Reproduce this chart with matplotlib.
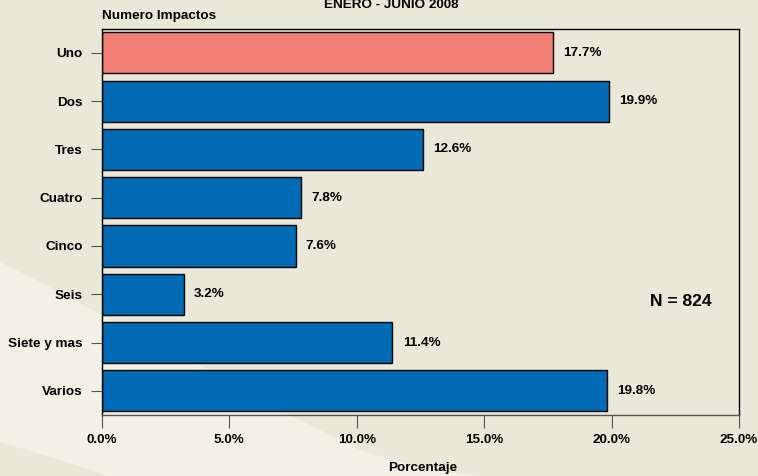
import matplotlib
matplotlib.use("Agg")
import matplotlib.pyplot as plt
from matplotlib.patches import Polygon

plt.rcParams['font.family'] = ['Liberation Sans', 'DejaVu Sans']
plt.rcParams['font.weight'] = 'bold'

categorias = ["Uno", "Dos", "Tres", "Cuatro", "Cinco", "Seis", "Siete y mas", "Varios"]
porcentajes = [17.7, 19.9, 12.6, 7.8, 7.6, 3.2, 11.4, 19.8]
colores = ["#F47F77"] + ["#006AB5"] * 7
xticks = [0, 5, 10, 15, 20, 25]

W, H = 758, 476
fig = plt.figure(figsize=(W / 100, H / 100), dpi=100)
fig.patch.set_facecolor("#EAE8D8")

# decorative lighter swoosh in the background (pixel coords -> figure fraction)
def px(pts):
    return [(x / W, 1 - y / H) for x, y in pts]

luz = px([(0, 262), (60, 292), (120, 325), (200, 365), (280, 410), (360, 450), (420, 468), (480, 476),
          (110, 476), (60, 460), (0, 442)])
fig.patches.append(Polygon(luz, closed=True, transform=fig.transFigure, facecolor="#F3F1E6",
                           edgecolor="none", zorder=-10))

ax = fig.add_axes([102 / W, 1 - 415 / H, (739 - 102) / W, (415 - 28.7) / H])
ax.patch.set_alpha(0)

fs = 9.7
pos = list(range(len(categorias)))
ax.barh(pos, porcentajes, height=0.85, color=colores, edgecolor="black", linewidth=1)
for p, v in zip(pos, porcentajes):
    ax.text(v + 0.4, p, f"{v:.1f}%", va="center", ha="left", fontsize=fs, fontweight="bold")

ax.set_ylim(7.5, -0.5)
ax.set_xlim(0, 25)
ax.set_yticks(pos)
ax.set_yticklabels(categorias, fontsize=fs, fontweight="bold")
ax.set_xticks(xticks)
ax.set_xticklabels([f"{t:.1f}%" for t in xticks], fontsize=fs, fontweight="bold")
ax.tick_params(axis="y", length=8, color="#555555", pad=6)
ax.tick_params(axis="x", length=9, color="#555555", pad=5)
for s in ax.spines.values():
    s.set_linewidth(1)
ax.spines["bottom"].set_color("#555555")

fig.text(388 / W, 1 - 468 / H, "Porcentaje", ha="left", va="center", fontsize=fs, fontweight="bold")
fig.text(102 / W, 1 - 16 / H, "Numero Impactos", ha="left", va="center", fontsize=fs, fontweight="bold")
fig.text(391 / W, 1 - 5 / H, "ENERO - JUNIO 2008", ha="center", va="center", fontsize=fs, fontweight="bold")
fig.text(681 / W, 1 - 301 / H, "N = 824", ha="center", va="center", fontsize=12.6, fontweight="bold")

fig.savefig("out.png", dpi=100, facecolor=fig.get_facecolor())
